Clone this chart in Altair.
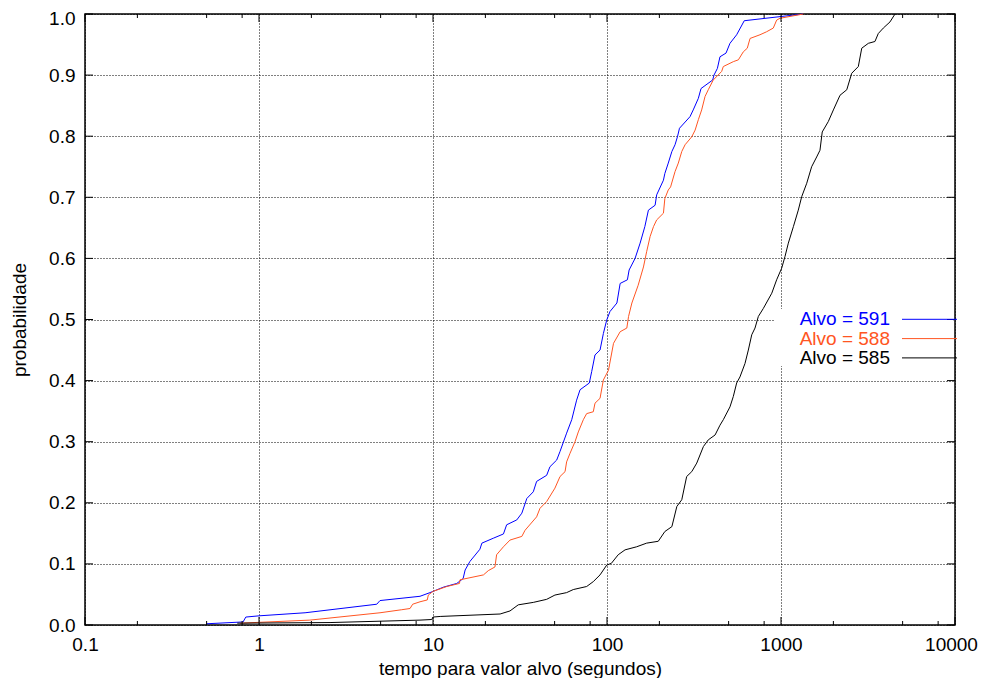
import altair as alt
import pandas as pd

names = ["Alvo = 591", "Alvo = 588", "Alvo = 585"]
colors = ["#0000ff", "#ff5522", "#000000"]

t591 = [0.50, 0.81, 0.84, 1.0, 1.84, 4.75, 4.96, 8.42, 9.61, 11.5, 13.7, 14.9, 15.3, 16.3, 18.6, 19.1,
        22.2, 25.4, 26.5, 30.3, 32.4, 34.6, 37.7, 39.4, 45.0, 47.0, 51.4, 53.7, 58.6, 62.7, 66.9, 70.0,
        79.1, 81.7, 85.3, 91.2, 95.3, 99.6, 104, 114, 119, 131, 134, 145, 155, 165, 173, 189, 193, 211,
        215, 225, 236, 246, 254, 261, 300, 313, 335, 347, 405, 412, 431, 446, 483, 509, 556, 615, 1337]
p591 = [0.002, 0.005, 0.013, 0.015, 0.020, 0.034, 0.040, 0.047, 0.053, 0.062, 0.068, 0.076, 0.090, 0.104,
        0.124, 0.134, 0.142, 0.149, 0.164, 0.172, 0.183, 0.207, 0.218, 0.235, 0.245, 0.259, 0.270, 0.284,
        0.314, 0.336, 0.368, 0.385, 0.396, 0.415, 0.442, 0.450, 0.477, 0.499, 0.513, 0.527, 0.559, 0.565,
        0.581, 0.600, 0.625, 0.652, 0.679, 0.687, 0.704, 0.728, 0.739, 0.756, 0.775, 0.786, 0.799, 0.813,
        0.832, 0.843, 0.862, 0.878, 0.892, 0.900, 0.911, 0.930, 0.936, 0.952, 0.966, 0.989, 1.0]

t588 = [0.78, 1.96, 4.96, 6.61, 7.38, 7.64, 8.42, 9.27, 9.40, 10.0, 12.0, 14.2, 14.3, 19.5, 20.8, 22.7,
        23.2, 25.4, 27.7, 32.4, 33.8, 39.4, 41.2, 45.0, 50.2, 53.7, 57.4, 58.6, 61.3, 65.5, 68.4, 73.1,
        76.4, 83.4, 85.3, 91.2, 95.3, 102, 109, 119, 130, 133, 139, 151, 162, 169, 177, 185, 193, 211,
        215, 225, 232, 246, 257, 269, 281, 307, 321, 335, 350, 366, 382, 408, 456, 466, 532, 569, 607,
        640, 664, 757, 827, 903, 944, 987, 1343]
p588 = [0.003, 0.008, 0.020, 0.025, 0.027, 0.034, 0.038, 0.041, 0.049, 0.055, 0.063, 0.068, 0.074, 0.082,
        0.089, 0.095, 0.115, 0.128, 0.139, 0.145, 0.155, 0.177, 0.191, 0.202, 0.224, 0.243, 0.251, 0.267,
        0.281, 0.300, 0.316, 0.336, 0.346, 0.349, 0.363, 0.371, 0.401, 0.417, 0.461, 0.480, 0.486, 0.505,
        0.527, 0.556, 0.586, 0.611, 0.636, 0.652, 0.663, 0.674, 0.698, 0.712, 0.717, 0.742, 0.756, 0.775,
        0.786, 0.799, 0.810, 0.827, 0.843, 0.865, 0.876, 0.892, 0.906, 0.914, 0.922, 0.925, 0.938, 0.944,
        0.960, 0.966, 0.971, 0.977, 0.990, 0.993, 1.0]

t585 = [0.75, 2.56, 8.42, 9.84, 10.0, 11.0, 24.3, 27.7, 30.9, 37.7, 45.0, 50.2, 58.6, 64.0, 76.4, 83.4,
        91.2, 99.6, 106, 116, 127, 148, 169, 197, 215, 236, 252, 269, 287, 307, 328, 358, 382, 418, 446,
        466, 509, 532, 556, 581, 621, 649, 679, 709, 741, 791, 885, 944, 1009, 1054, 1102, 1178, 1257,
        1315, 1406, 1500, 1603, 1675, 1726, 1870, 2000, 2184, 2388, 2549, 2782, 2911, 3177, 3467, 3623,
        3873, 4230, 4520]
p585 = [0.003, 0.004, 0.008, 0.009, 0.013, 0.014, 0.018, 0.023, 0.033, 0.037, 0.042, 0.049, 0.053, 0.058,
        0.063, 0.071, 0.082, 0.098, 0.101, 0.115, 0.123, 0.128, 0.134, 0.137, 0.153, 0.161, 0.194, 0.205,
        0.243, 0.251, 0.265, 0.292, 0.303, 0.311, 0.327, 0.336, 0.357, 0.374, 0.396, 0.406, 0.428, 0.450,
        0.475, 0.486, 0.505, 0.518, 0.543, 0.565, 0.584, 0.603, 0.625, 0.652, 0.679, 0.701, 0.723, 0.750,
        0.766, 0.777, 0.807, 0.824, 0.843, 0.867, 0.876, 0.903, 0.914, 0.944, 0.952, 0.955, 0.968, 0.977,
        0.987, 1.0]

x_major = [0.1, 1, 10, 100, 1000, 10000]
x_minor = [m * d for d in [0.1, 1, 10, 100, 1000] for m in [2, 5, 8]]
y_major = [round(i * 0.1, 1) for i in range(11)]

W, H = 870, 611
FONT = "Liberation Sans"
FS = 19

frames = []
for n, t, p in zip(names, [t591, t588, t585], [p591, p588, p585]):
    frames.append(pd.DataFrame({"t": t, "p": p, "serie": n}))
df = pd.concat(frames, ignore_index=True)

xscale = alt.Scale(type="log", domain=[0.1, 10000], nice=False)
yscale = alt.Scale(domain=[0, 1], nice=False, zero=False)

lines = alt.Chart(df).mark_line(strokeWidth=1).encode(
    x=alt.X("t:Q", scale=xscale, title="tempo para valor alvo (segundos)",
            axis=alt.Axis(values=x_major, format="~g", grid=True, gridDash=[1, 2], gridColor="#000000",
                          gridOpacity=1, gridWidth=1, ticks=False, domain=False, labelPadding=10,
                          titlePadding=5, labelFlush=False, labelOverlap=False,
                          labelOffset={"condition": {"test": "datum.value > 5000", "value": -4}, "value": 0})),
    y=alt.Y("p:Q", scale=yscale, title="probabilidade",
            axis=alt.Axis(values=y_major, format=".1f", grid=True, gridDash=[1, 2], gridColor="#000000",
                          gridOpacity=1, gridWidth=1, ticks=False, domain=False, labelPadding=10,
                          titlePadding=19, labelFlush=False, labelOverlap=False,
                          labelOffset={"condition": {"test": "datum.value >= 0.99", "value": 4}, "value": 0})),
    color=alt.Color("serie:N", scale=alt.Scale(domain=names, range=colors), legend=None),
)

one = pd.DataFrame({"a": [0]})
mask = alt.Chart(one).mark_rect(color="white").encode(
    x=alt.value(690), x2=alt.value(868.5), y=alt.value(295), y2=alt.value(352)
)

def xticks(vals, length):
    d = pd.DataFrame({"t": vals})
    b = alt.Chart(d).mark_rule(color="black", strokeWidth=1).encode(
        x=alt.X("t:Q", scale=xscale), y=alt.value(H), y2=alt.value(H - length))
    t = alt.Chart(d).mark_rule(color="black", strokeWidth=1).encode(
        x=alt.X("t:Q", scale=xscale), y=alt.value(0), y2=alt.value(length))
    return [b, t]

def yticks(vals, length):
    d = pd.DataFrame({"p": vals})
    l = alt.Chart(d).mark_rule(color="black", strokeWidth=1).encode(
        y=alt.Y("p:Q", scale=yscale), x=alt.value(0), x2=alt.value(length))
    r = alt.Chart(d).mark_rule(color="black", strokeWidth=1).encode(
        y=alt.Y("p:Q", scale=yscale), x=alt.value(W - length), x2=alt.value(W))
    return [l, r]

legend_layers = []
for i, (n, c) in enumerate(zip(names, colors)):
    yy = 305.3 + i * 19.3
    legend_layers.append(
        alt.Chart(one).mark_text(align="right", baseline="middle", font=FONT, fontSize=FS, color=c).encode(
            x=alt.value(805), y=alt.value(yy), text=alt.value(n)))
    legend_layers.append(
        alt.Chart(one).mark_rule(color=c, strokeWidth=1).encode(
            x=alt.value(817), x2=alt.value(872), y=alt.value(yy)))

chart = alt.layer(
    lines, mask, *xticks(x_major, 8), *xticks(x_minor, 4), *yticks(y_major, 8), *legend_layers
).properties(
    width=W, height=H,
    padding={"left": 77, "top": 6, "right": 23, "bottom": 53},
    autosize=alt.AutoSizeParams(type="none"),
).configure_view(
    stroke="#000000", strokeWidth=1.5
).configure_axis(
    labelFont=FONT, titleFont=FONT, labelFontSize=FS, titleFontSize=FS,
    labelColor="#000000", titleColor="#000000", titleFontWeight="normal"
)

chart.save("out.html", embed_options={"renderer": "svg", "actions": False})
